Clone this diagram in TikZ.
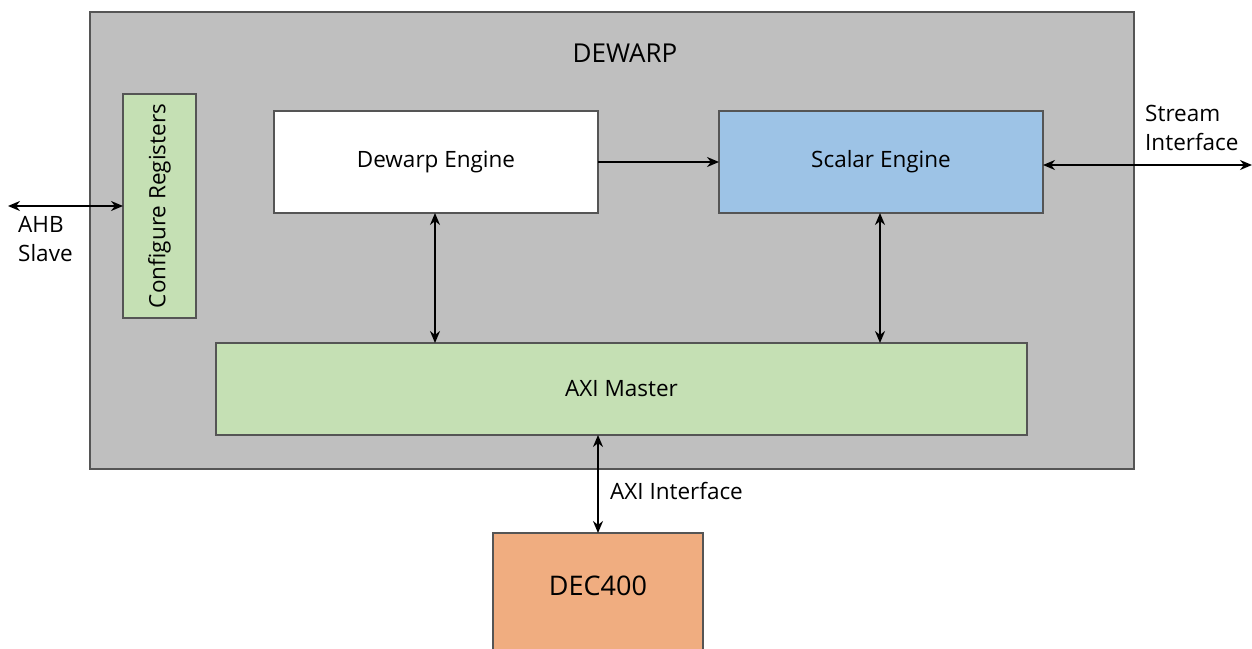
\documentclass[tikz,border=0pt]{standalone}
\usepackage{fontspec}
\setmainfont{Open Sans}
\usetikzlibrary{arrows.meta}
\definecolor{outerfill}{HTML}{BFBFBF}
\definecolor{greenfill}{HTML}{C5E0B4}
\definecolor{bluefill}{HTML}{9DC3E6}
\definecolor{orangefill}{HTML}{F0AD80}
\definecolor{edgegray}{HTML}{555555}
\tikzset{
  blk/.style={draw=edgegray, line width=1.2pt, inner sep=0pt, outer sep=0pt, font=\fontsize{22.5}{29}\selectfont},
  conn/.style={line width=1.8pt, {Stealth[length=12pt,width=10pt]}-{Stealth[length=12pt,width=10pt]}},
  conn1/.style={line width=1.8pt, -{Stealth[length=12pt,width=10pt]}},
  lbl/.style={font=\fontsize{22.5}{29}\selectfont, inner sep=0pt, align=left}
}
\begin{document}
\begin{tikzpicture}[x=1pt,y=-1pt]
\useasboundingbox (0,0) rectangle (1252,648);
\clip (0,0) rectangle (1252,648);
\fill[white] (0,0) rectangle (1252,648);
% outer
\node[blk, fill=outerfill, minimum width=1044pt, minimum height=457pt, anchor=north west] (dewarp) at (90,12) {};
\node[lbl, font=\fontsize{26}{30}\selectfont] (title) at (625,53) {DEWARP};
% blocks
\node[blk, fill=greenfill, minimum width=73pt, minimum height=224pt, anchor=north west] (cfg) at (123,94) {};
\node[lbl, rotate=90] (cfgtxt) at (159.5,206) {Configure Registers};
\node[blk, fill=white, minimum width=324pt, minimum height=102pt, anchor=north west] (dwe) at (274,111) {Dewarp Engine};
\node[blk, fill=bluefill, minimum width=324pt, minimum height=102pt, anchor=north west] (sce) at (719,111) {Scalar Engine};
\node[blk, fill=greenfill, minimum width=811pt, minimum height=92pt, anchor=north west] (axi) at (216,343) {AXI Master};
\node[blk, fill=orangefill, minimum width=210pt, minimum height=140pt, anchor=north west] (dec) at (493,533) {};
\node[font=\fontsize{27}{32}\selectfont, inner sep=0pt] (dectxt) at (598,586) {DEC400};
% free ends
\coordinate (ahbend) at (8,206);
\coordinate (streamend) at (1252,165);
% connectors
\draw[conn1] (dwe.east) -- (sce.west);
\draw[conn] (435,213) -- (435,343);
\draw[conn] (880,213) -- (880,343);
\draw[conn] (ahbend) -- (cfg.west |- ahbend);
\draw[conn] (sce.east |- streamend) -- (streamend);
\draw[conn] (598,435) -- (598,533);
% labels
\node[lbl, anchor=west] (ahb) at (18,239) {AHB\\Slave};
\node[lbl, anchor=west] (stream) at (1145,128) {Stream\\Interface};
\node[lbl, anchor=west] (axiif) at (610,491) {AXI Interface};
\end{tikzpicture}
\end{document}
